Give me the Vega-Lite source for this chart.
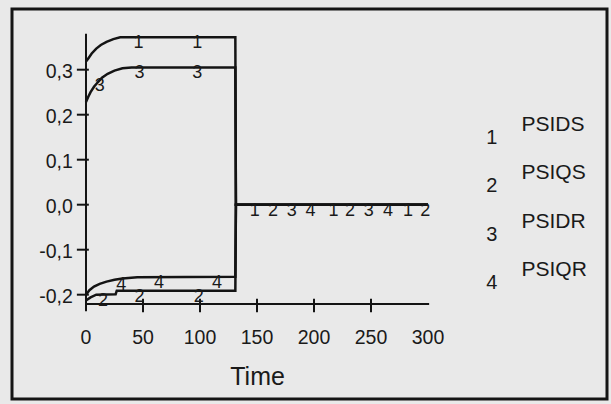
{
  "$schema": "https://vega.github.io/schema/vega-lite/v6.json",
  "width": 595,
  "height": 390,
  "autosize": {"type": "none"},
  "padding": {"left": 12, "top": 9, "right": 4, "bottom": 5},
  "background": "#e9e9e9",
  "config": {
    "view": {"stroke": "#151515", "strokeWidth": 3},
    "text": {"font": "Liberation Sans", "color": "#1a1a1a"}
  },
  "datasets": {
    "curves": [
      {"s": "1", "t": 0, "v": 0.318}, {"s": "1", "t": 2, "v": 0.325}, {"s": "1", "t": 5, "v": 0.336},
      {"s": "1", "t": 9, "v": 0.347}, {"s": "1", "t": 13, "v": 0.355}, {"s": "1", "t": 18, "v": 0.362},
      {"s": "1", "t": 24, "v": 0.368}, {"s": "1", "t": 30, "v": 0.372}, {"s": "1", "t": 131, "v": 0.372},
      {"s": "1", "t": 131.5, "v": 0}, {"s": "1", "t": 300, "v": 0},
      {"s": "2", "t": 0, "v": -0.213}, {"s": "2", "t": 4, "v": -0.206}, {"s": "2", "t": 9, "v": -0.2},
      {"s": "2", "t": 26, "v": -0.199}, {"s": "2", "t": 27, "v": -0.191}, {"s": "2", "t": 131, "v": -0.191},
      {"s": "2", "t": 131.5, "v": 0}, {"s": "2", "t": 300, "v": 0},
      {"s": "3", "t": 0, "v": 0.228}, {"s": "3", "t": 2, "v": 0.24}, {"s": "3", "t": 4, "v": 0.25},
      {"s": "3", "t": 7, "v": 0.262}, {"s": "3", "t": 10, "v": 0.271}, {"s": "3", "t": 14, "v": 0.282},
      {"s": "3", "t": 19, "v": 0.291}, {"s": "3", "t": 25, "v": 0.298}, {"s": "3", "t": 32, "v": 0.303},
      {"s": "3", "t": 40, "v": 0.305}, {"s": "3", "t": 131, "v": 0.305}, {"s": "3", "t": 131.5, "v": 0},
      {"s": "3", "t": 300, "v": 0},
      {"s": "4", "t": 0, "v": -0.2}, {"s": "4", "t": 3, "v": -0.19}, {"s": "4", "t": 7, "v": -0.182},
      {"s": "4", "t": 12, "v": -0.176}, {"s": "4", "t": 18, "v": -0.171}, {"s": "4", "t": 25, "v": -0.167},
      {"s": "4", "t": 32, "v": -0.164}, {"s": "4", "t": 45, "v": -0.161}, {"s": "4", "t": 131, "v": -0.16},
      {"s": "4", "t": 131.5, "v": 0}, {"s": "4", "t": 300, "v": 0}
    ],
    "curveLabels": [
      {"lab": "1", "t": 46, "v": 0.372}, {"lab": "1", "t": 97.5, "v": 0.372},
      {"lab": "3", "t": 12, "v": 0.278}, {"lab": "3", "t": 47, "v": 0.305}, {"lab": "3", "t": 97.5, "v": 0.305},
      {"lab": "4", "t": 31, "v": -0.165}, {"lab": "4", "t": 64, "v": -0.16}, {"lab": "4", "t": 115, "v": -0.16},
      {"lab": "2", "t": 15, "v": -0.2}, {"lab": "2", "t": 47, "v": -0.191}, {"lab": "2", "t": 99, "v": -0.191},
      {"lab": "1", "t": 148, "v": 0}, {"lab": "2", "t": 164, "v": 0}, {"lab": "3", "t": 180.5, "v": 0},
      {"lab": "4", "t": 197, "v": 0}, {"lab": "1", "t": 217, "v": 0}, {"lab": "2", "t": 231.5, "v": 0},
      {"lab": "3", "t": 248, "v": 0}, {"lab": "4", "t": 265, "v": 0}, {"lab": "1", "t": 282.5, "v": 0},
      {"lab": "2", "t": 297.5, "v": 0}
    ],
    "yTicks": [
      {"v": 0.3, "lab": "0,3"}, {"v": 0.2, "lab": "0,2"}, {"v": 0.1, "lab": "0,1"},
      {"v": 0, "lab": "0,0"}, {"v": -0.1, "lab": "-0,1"}, {"v": -0.2, "lab": "-0,2"}
    ],
    "xTicks": [
      {"t": 0, "lab": "0"}, {"t": 50, "lab": "50"}, {"t": 100, "lab": "100"}, {"t": 150, "lab": "150"},
      {"t": 200, "lab": "200"}, {"t": 250, "lab": "250"}, {"t": 300, "lab": "300"}
    ],
    "legend": [
      {"name": "PSIDS", "num": "1"}, {"name": "PSIQS", "num": "2"},
      {"name": "PSIDR", "num": "3"}, {"name": "PSIQR", "num": "4"}
    ],
    "one": [{}]
  },
  "resolve": {"scale": {"y": "independent"}},
  "layer": [
    {
      "layer": [
        {
          "data": {"name": "curves"},
          "mark": {"type": "line", "color": "#141414", "strokeWidth": 2.5},
          "encoding": {
            "x": {"field": "t", "type": "quantitative", "scale": {"domain": [-64.91, 457.02], "nice": false, "zero": false}, "axis": null},
            "y": {"field": "v", "type": "quantitative", "scale": {"domain": [-0.4318, 0.4349], "nice": false, "zero": false}, "axis": null},
            "detail": {"field": "s"}
          }
        },
        {
          "data": {"name": "one"},
          "mark": {"type": "rule", "color": "#141414", "strokeWidth": 2},
          "encoding": {
            "x": {"datum": 0, "type": "quantitative"},
            "y": {"datum": 0.38, "type": "quantitative"},
            "y2": {"datum": -0.237}
          }
        },
        {
          "data": {"name": "one"},
          "mark": {"type": "rule", "color": "#141414", "strokeWidth": 2},
          "encoding": {
            "x": {"datum": 0, "type": "quantitative"},
            "x2": {"datum": 301},
            "y": {"datum": -0.2207, "type": "quantitative"}
          }
        },
        {
          "data": {"name": "yTicks"},
          "mark": {"type": "rule", "color": "#141414", "strokeWidth": 2},
          "encoding": {
            "x": {"datum": -8, "type": "quantitative"},
            "x2": {"datum": 2.5},
            "y": {"field": "v", "type": "quantitative"}
          }
        },
        {
          "data": {"name": "xTicks"},
          "transform": [{"filter": "datum.t > 0 && datum.t < 300"}],
          "mark": {"type": "rule", "color": "#141414", "strokeWidth": 2},
          "encoding": {
            "x": {"field": "t", "type": "quantitative"},
            "y": {"datum": -0.209, "type": "quantitative"},
            "y2": {"datum": -0.239}
          }
        },
        {
          "data": {"name": "yTicks"},
          "mark": {"type": "text", "align": "right", "baseline": "middle", "fontSize": 19.5, "dy": 2},
          "encoding": {
            "x": {"datum": -11.5, "type": "quantitative"},
            "y": {"field": "v", "type": "quantitative"},
            "text": {"field": "lab"}
          }
        },
        {
          "data": {"name": "xTicks"},
          "mark": {"type": "text", "align": "center", "baseline": "middle", "fontSize": 19.5},
          "encoding": {
            "x": {"field": "t", "type": "quantitative"},
            "y": {"datum": -0.296, "type": "quantitative"},
            "text": {"field": "lab"}
          }
        },
        {
          "data": {"name": "one"},
          "mark": {"type": "text", "align": "center", "baseline": "middle", "fontSize": 25, "text": "Time"},
          "encoding": {
            "x": {"datum": 150.5, "type": "quantitative"},
            "y": {"datum": -0.382, "type": "quantitative"}
          }
        },
        {
          "data": {"name": "curveLabels"},
          "mark": {"type": "text", "align": "center", "baseline": "top", "fontSize": 18, "dy": -3},
          "encoding": {
            "x": {"field": "t", "type": "quantitative"},
            "y": {"field": "v", "type": "quantitative"},
            "text": {"field": "lab"}
          }
        }
      ]
    },
    {
      "data": {"name": "legend"},
      "transform": [{"window": [{"op": "row_number", "as": "idx"}]}],
      "layer": [
        {
          "mark": {"type": "text", "align": "left", "baseline": "middle", "fontSize": 21},
          "encoding": {
            "x": {"datum": 382, "type": "quantitative"},
            "y": {"field": "idx", "type": "quantitative", "scale": {"domain": [-1.4, 6.669], "reverse": true, "nice": false, "zero": false}, "axis": null},
            "text": {"field": "name"}
          }
        },
        {
          "mark": {"type": "text", "align": "center", "baseline": "middle", "fontSize": 20, "dy": 13},
          "encoding": {
            "x": {"datum": 356, "type": "quantitative"},
            "y": {"field": "idx", "type": "quantitative"},
            "text": {"field": "num"}
          }
        }
      ]
    }
  ]
}
